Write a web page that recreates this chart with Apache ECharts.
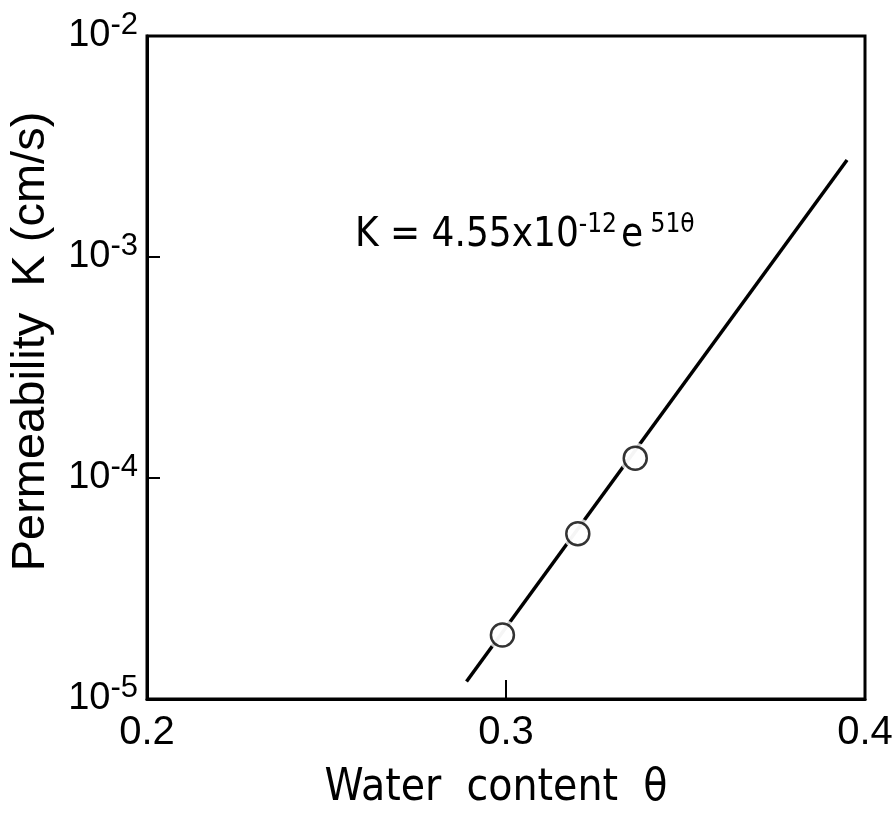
<!DOCTYPE html>
<html>
<head>
<meta charset="utf-8">
<script src="https://cdn.jsdelivr.net/npm/echarts@6/dist/echarts.min.js"></script>
<style>
  html, body { margin: 0; padding: 0; background: #fff; }
  #main { width: 893px; height: 819px; }
</style>
</head>
<body>
<div id="main"></div>
<script>
  // measured points (water content, permeability)
  var waterContent = [0.299, 0.320, 0.336];
  var permeability = [1.95e-5, 5.6e-5, 1.23e-4];
  // fitted line, end points
  var fitTheta = [0.289, 0.395];
  var fitK = [1.2e-5, 2.75e-3];
  var xTicks = [0.2, 0.3, 0.4];
  var yTicks = [1e-5, 1e-4, 1e-3, 1e-2];

  var font = "'Liberation Sans', sans-serif";
  var narrow = "'DejaVu Sans Condensed', 'Liberation Sans', sans-serif";

  var points = waterContent.map(function (x, i) { return [x, permeability[i]]; });
  var fit = fitTheta.map(function (x, i) { return [x, fitK[i]]; });

  var chart = echarts.init(document.getElementById('main'));
  var option = {
    backgroundColor: '#fff',
    animation: false,
    grid: {
      left: 147, right: 28, top: 36, bottom: 120,
      outerBoundsMode: 'none',
      show: true, borderColor: '#000', borderWidth: 3
    },
    xAxis: {
      type: 'value',
      min: xTicks[0], max: xTicks[xTicks.length - 1], interval: 0.1,
      name: 'Water  content  θ',
      nameLocation: 'middle',
      nameGap: 68,
      nameTextStyle: { fontFamily: narrow, fontSize: 44, color: '#000', padding: [0, 20, 0, 0] },
      axisLine: { lineStyle: { color: '#000', width: 3 } },
      axisTick: { inside: true, length: 19, lineStyle: { color: '#000', width: 2 } },
      axisLabel: {
        margin: 14, color: '#000', fontFamily: font, fontSize: 40,
        formatter: function (v) { return v.toFixed(1); }
      },
      splitLine: { show: false }
    },
    yAxis: {
      type: 'log',
      logBase: 10,
      min: yTicks[0], max: yTicks[yTicks.length - 1],
      name: 'Permeability  K (cm/s)',
      nameLocation: 'middle',
      nameGap: 92,
      nameTextStyle: { fontFamily: font, fontSize: 47, color: '#000', padding: [0, 0, 0, 52] },
      axisLine: { lineStyle: { color: '#000', width: 3 } },
      axisTick: { inside: true, length: 13, lineStyle: { color: '#000', width: 2 } },
      axisLabel: {
        margin: 9, color: '#000', fontFamily: font, fontSize: 38,
        formatter: function (v) {
          return '10{s|' + Math.round(Math.log10(v)) + '}';
        },
        rich: {
          s: { fontFamily: font, fontSize: 31, color: '#000', verticalAlign: 'bottom', padding: [0, 0, 22, 0] }
        }
      },
      splitLine: { show: false }
    },
    graphic: [{
      type: 'text',
      left: 355, top: 212,
      style: {
        text: 'K = 4.55x10{s|-12}{e|e}{s| 51θ}',
        fontFamily: narrow, fontSize: 40, fill: '#000',
        rich: {
          s: { fontFamily: narrow, fontSize: 26, fill: '#000', verticalAlign: 'bottom', padding: [0, 0, 22, 0] },
          e: { fontFamily: narrow, fontSize: 40, fill: '#000', padding: [0, 0, 0, 4] }
        }
      }
    }],
    series: [{
      type: 'line',
      data: fit,
      showSymbol: false,
      lineStyle: { color: '#000', width: 3.5 },
      z: 2
    }, {
      // white halo to break the line round each circle
      type: 'scatter',
      data: points,
      symbolSize: 31,
      itemStyle: { color: '#fff' },
      z: 3
    }, {
      type: 'scatter',
      data: points,
      symbolSize: 23,
      itemStyle: { color: '#fff', borderColor: '#000', borderWidth: 2.5 },
      z: 4
    }]
  };
  chart.setOption(option);
</script>
</body>
</html>
